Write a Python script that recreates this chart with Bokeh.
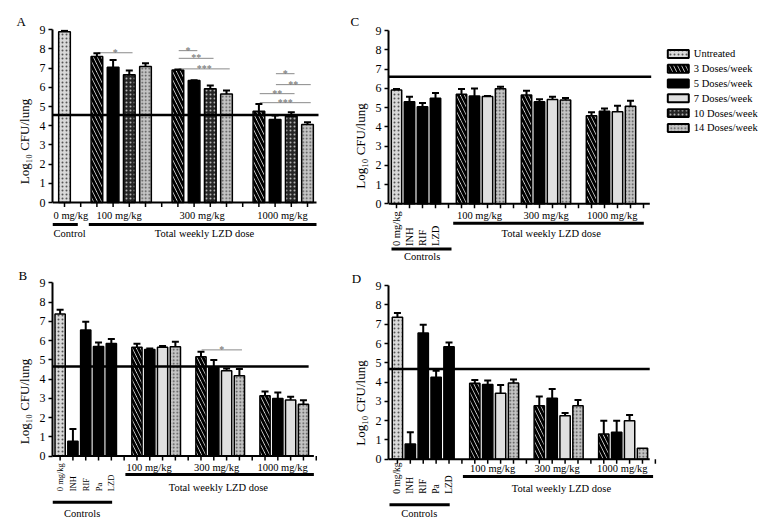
import numpy as np
from bokeh.plotting import figure
from bokeh.layouts import row, column
from bokeh.models import ColumnDataSource, Whisker, TeeHead, FixedTicker, Range1d
from bokeh.core.properties import value
from bokeh.embed import file_html
from bokeh.resources import INLINE

FONT = "Liberation Serif"

# ---------------- data ----------------
SERIES = ["Untreated", "3 Doses/week", "5 Doses/week", "7 Doses/week",
          "10 Doses/week", "14 Doses/week"]
DOSE_GROUPS = ["100 mg/kg", "300 mg/kg", "1000 mg/kg"]
Y_TICKS = [0, 1, 2, 3, 4, 5, 6, 7, 8, 9]
Y_LABEL = "Log\u2081\u2080 CFU/lung"

# Panel A
A_controls = ["0 mg/kg"]
A_ctrl_mean = [8.90]
A_ctrl_sd = [0.05]
A_series = ["3 Doses/week", "5 Doses/week", "10 Doses/week", "14 Doses/week"]
A_mean = [[7.60, 7.04, 6.66, 7.08],
          [6.90, 6.35, 5.92, 5.65],
          [4.75, 4.33, 4.49, 4.06]]
A_sd = [[0.17, 0.38, 0.21, 0.17],
        [0.03, 0.02, 0.17, 0.18],
        [0.38, 0.20, 0.21, 0.12]]
A_threshold = 4.56
A_sig_group = [0, 1, 1, 1, 2, 2, 2, 2]
A_sig_i = [0, 0, 0, 0, 1, 1, 0, 0]
A_sig_j = [2, 1, 2, 3, 2, 3, 2, 3]
A_sig_y = [7.80, 7.91, 7.51, 6.96, 6.71, 6.14, 5.67, 5.20]
A_sig_text = ["*", "*", "**", "***", "*", "**", "**", "***"]

# Panel B
B_controls = ["0 mg/kg", "INH", "RIF", "Pa", "LZD"]
B_ctrl_mean = [7.38, 0.77, 6.55, 5.70, 5.85]
B_ctrl_sd = [0.23, 0.63, 0.43, 0.21, 0.23]
B_series = ["3 Doses/week", "5 Doses/week", "7 Doses/week", "14 Doses/week"]
B_mean = [[5.66, 5.54, 5.66, 5.68],
          [5.16, 4.60, 4.43, 4.17],
          [3.13, 2.99, 2.92, 2.69]]
B_sd = [[0.18, 0.05, 0.06, 0.26],
        [0.26, 0.39, 0.12, 0.35],
        [0.22, 0.31, 0.16, 0.21]]
B_threshold = 4.65
B_sig_group = [1]
B_sig_i = [0]
B_sig_j = [3]
B_sig_y = [5.52]
B_sig_text = ["*"]

# Panel C
C_controls = ["0 mg/kg", "INH", "RIF", "LZD"]
C_ctrl_mean = [5.92, 5.31, 5.04, 5.49]
C_ctrl_sd = [0.05, 0.26, 0.20, 0.27]
C_series = ["3 Doses/week", "5 Doses/week", "7 Doses/week", "14 Doses/week"]
C_mean = [[5.70, 5.60, 5.58, 5.98],
          [5.65, 5.30, 5.42, 5.40],
          [4.58, 4.81, 4.79, 5.07]]
C_sd = [[0.27, 0.40, 0.02, 0.10],
        [0.23, 0.13, 0.15, 0.10],
        [0.18, 0.15, 0.31, 0.29]]
C_threshold = 6.60

# Panel D
D_controls = ["0 mg/kg", "INH", "RIF", "Pa", "LZD"]
D_ctrl_mean = [7.36, 0.79, 6.55, 4.25, 5.84]
D_ctrl_sd = [0.22, 0.61, 0.43, 0.34, 0.22]
D_series = ["3 Doses/week", "5 Doses/week", "7 Doses/week", "14 Doses/week"]
D_mean = [[3.94, 3.87, 3.42, 3.96],
          [2.78, 3.16, 2.26, 2.78],
          [1.31, 1.40, 2.00, 0.57]]
D_sd = [[0.17, 0.21, 0.43, 0.17],
        [0.48, 0.48, 0.14, 0.29],
        [0.69, 0.60, 0.30, 0.00]]
D_threshold = 4.68

# ---------------- styles ----------------
STYLES = {
    "Untreated": dict(fill_color="#d9d9d9", hatch_pattern="dot", hatch_color="#555555",
                      hatch_scale=4, hatch_weight=1),
    "3 Doses/week": dict(fill_color="white", hatch_pattern="left_diagonal_line",
                         hatch_color="black", hatch_scale=8, hatch_weight=3),
    "5 Doses/week": dict(fill_color="black"),
    "7 Doses/week": dict(fill_color="#e0e0e0"),
    "10 Doses/week": dict(fill_color="#262626", hatch_pattern="dot", hatch_color="#b5b5b5",
                          hatch_scale=4, hatch_weight=1),
    "14 Doses/week": dict(fill_color="#c4c4c4", hatch_pattern="dot", hatch_color="#4a4a4a",
                          hatch_scale=3.5, hatch_weight=1),
    "control": dict(fill_color="black"),
}


def make_panel(letter, cfg, controls, ctrl_mean, ctrl_sd, series, means, sds,
               threshold, sig=None, legend=False):
    ox, sx, oy, sy = cfg["map"]
    X = lambda px: (px - ox) / sx
    Y = lambda py: (oy - py) / sy
    fx, fy, fw, fh = cfg["fig"]
    fl, fr, ft, fb = cfg["frame"]
    p = figure(width=fw, height=fh,
               x_range=Range1d(X(fl), X(fr)), y_range=Range1d(Y(fb), Y(ft) + 0.01),
               output_backend="svg", toolbar_location=None, x_axis_location=None,
               min_border_left=fl - fx, min_border_right=fx + fw - fr,
               min_border_top=ft - fy, min_border_bottom=fy + fh - fb)
    p.xgrid.visible = False
    p.ygrid.visible = False
    p.outline_line_color = None
    p.background_fill_color = "white"
    p.border_fill_color = "white"

    nc = len(controls)
    slot = lambda g, k: nc + 1 + 5 * g + k
    n_slots = nc + 1 + 5 * len(DOSE_GROUPS) - 1

    bars = {}
    wx, wl, wu = [], [], []
    for i, (m, s) in enumerate(zip(ctrl_mean, ctrl_sd)):
        key = "Untreated" if i == 0 else "control"
        bars.setdefault(key, ([], []))
        bars[key][0].append(i)
        bars[key][1].append(m)
        if s > 0.015:
            wx.append(i); wl.append(m); wu.append(m + s)
    for g in range(len(DOSE_GROUPS)):
        for k, name in enumerate(series):
            m, s = means[g][k], sds[g][k]
            bars.setdefault(name, ([], []))
            bars[name][0].append(slot(g, k))
            bars[name][1].append(m)
            if s > 0.015:
                wx.append(slot(g, k)); wl.append(m); wu.append(m + s)

    for key, (xs, tops) in bars.items():
        p.vbar(x=xs, top=tops, bottom=0, width=cfg["bw"], line_color="black",
               line_width=1.5, **STYLES[key])

    wsrc = ColumnDataSource(dict(x=wx, lower=wl, upper=wu))
    p.add_layout(Whisker(base="x", lower="lower", upper="upper", source=wsrc,
                         dimension="height", line_color="black", line_width=2,
                         upper_head=TeeHead(size=7, line_width=2, line_color="black"),
                         lower_head=None, level="annotation"))

    # threshold line
    p.segment(x0=[X(fl)], y0=[threshold], x1=[X(cfg["thr_end"])], y1=[threshold],
              line_color="black", line_width=2.5)

    # x baseline and ticks
    p.segment(x0=[X(fl)], y0=[0], x1=[X(cfg["axis_end"])], y1=[0],
              line_color="black", line_width=2)
    tick_slots = list(range(n_slots + 1))
    p.segment(x0=tick_slots, y0=[0] * len(tick_slots), x1=tick_slots,
              y1=[-4.5 / sy] * len(tick_slots), line_color="black", line_width=1.5)

    txt = dict(text_font=value(FONT), text_color="black")

    # control labels
    if cfg["ctrl_rot"]:
        p.text(x=list(range(nc)), y=[Y(cfg["rot_bottom"])] * nc, text=controls,
               angle=np.pi / 2, text_align="left", text_baseline="middle",
               text_font_size=cfg["rot_size"], **txt)
    else:
        cxp, cyp = cfg["ctrl_lab"]
        p.text(x=[X(cxp)], y=[Y(cyp)], text=controls, text_align="left",
               text_baseline="middle", text_font_size="10.5px", **txt)

    # dose group labels
    p.text(x=[X(v) for v in cfg["grp_lab_x"]], y=[Y(cfg["grp_lab_y"])] * 3,
           text=DOSE_GROUPS, text_align="center", text_baseline="middle",
           text_font_size="10.5px", **txt)

    # underline bars
    (c0, c1, cy), (t0, t1, ty) = cfg["ctrl_bar"], cfg["tot_bar"]
    p.segment(x0=[X(c0), X(t0)], y0=[Y(cy), Y(ty)], x1=[X(c1), X(t1)], y1=[Y(cy), Y(ty)],
              line_color="black", line_width=3)
    (ctx, cty, cal), (ttx, tty) = cfg["ctrl_text"], cfg["tot_text"]
    p.text(x=[X(ctx)], y=[Y(cty)], text=["Controls" if nc > 1 else "Control"],
           text_align=cal, text_baseline="middle", text_font_size="10.5px", **txt)
    p.text(x=[X(ttx)], y=[Y(tty)], text=["Total weekly LZD dose"],
           text_align="center", text_baseline="middle", text_font_size="10.5px", **txt)

    # significance brackets
    if sig is not None:
        sg, si, sj, syv, stx = sig
        x0 = [slot(g, i) + 0.05 for g, i in zip(sg, si)]
        x1 = [slot(g, j) + 0.2 for g, j in zip(sg, sj)]
        p.segment(x0=x0, y0=syv, x1=x1, y1=syv, line_color="#8a8a8a", line_width=1)
        p.text(x=[(a + b) / 2 for a, b in zip(x0, x1)], y=[v + 0.5 / sy for v in syv],
               text=stx, text_align="center", text_baseline="alphabetic",
               text_font_size="10px", text_color="#6a6a6a", text_font=value(FONT))

    # legend
    if legend:
        lx, ly0, ldy = cfg["legend"]
        for i, name in enumerate(SERIES):
            yc = Y(ly0 + ldy * i)
            p.rect(x=[X(lx)], y=[yc], width=21 / sx, height=8 / sy,
                   line_color="black", line_width=2, **STYLES[name])
        p.text(x=[X(lx + 15.5)] * len(SERIES), y=[Y(ly0 + ldy * i) for i in range(len(SERIES))],
               text=SERIES, text_align="left", text_baseline="middle",
               text_font_size="10.5px", **txt)

    # y axis
    ax = p.yaxis[0]
    ax.ticker = FixedTicker(ticks=Y_TICKS)
    ax.bounds = (0, 9)
    ax.axis_line_width = 2
    ax.axis_line_color = "black"
    ax.major_tick_line_width = 1.5
    ax.major_tick_out = 4
    ax.major_tick_in = 0
    ax.minor_tick_out = 0
    ax.minor_tick_in = 0
    ax.major_label_text_font = FONT
    ax.major_label_text_font_size = "12px"
    ax.major_label_text_color = "black"
    ax.major_label_standoff = 3
    ax.axis_label = Y_LABEL
    ax.axis_label_text_font = FONT
    ax.axis_label_text_font_size = "13px"
    ax.axis_label_text_font_style = "normal"
    ax.axis_label_text_color = "black"
    ax.axis_label_standoff = 5

    # panel letter as title
    lxp, valign = cfg["letter"]
    p.title.text = letter
    p.title.align = "left"
    p.title.vertical_align = valign
    p.title.offset = lxp - fl
    p.title.standoff = 0
    p.title.text_font = FONT
    p.title.text_font_size = "13px"
    p.title.text_font_style = "normal"
    p.title.text_color = "black"
    return p


cfgA = dict(map=(64, 16.2, 202, 19.22), fig=(0, 0, 340, 253), frame=(52, 320, 29, 253),
            bw=0.72, axis_end=316, thr_end=318, ctrl_rot=False, ctrl_lab=(53, 215),
            grp_lab_x=[118.7, 201.7, 282.0], grp_lab_y=215,
            ctrl_bar=(52, 77.3, 224), tot_bar=(88.3, 316, 224),
            ctrl_text=(53, 233.3, "left"), tot_text=(204, 233.3), letter=(16, "middle"))
cfgB = dict(map=(56.7, 12.95, 455.5, 19.25), fig=(0, 253, 340, 267), frame=(49, 320, 282, 520),
            bw=0.8, axis_end=313.3, thr_end=308, ctrl_rot=True, rot_bottom=490.7,
            rot_size="8.5px",
            grp_lab_x=[146.7, 215, 281.7], grp_lab_y=466.7,
            ctrl_bar=(49, 109.3, 501.7), tot_bar=(122.7, 313.3, 474),
            ctrl_text=(79, 513, "center"), tot_text=(216.7, 487.3), letter=(15, "bottom"))
cfgC = dict(map=(396, 13.0, 203.3, 19.26), fig=(340, 0, 424, 262), frame=(388, 764, 29, 262),
            bw=0.8, axis_end=649.3, thr_end=650.7, ctrl_rot=True, rot_bottom=245.5,
            rot_size="10.5px",
            grp_lab_x=[479, 545.7, 611.7], grp_lab_y=215,
            ctrl_bar=(391, 451, 248.5), tot_bar=(452.7, 643.3, 222.7),
            ctrl_text=(421.7, 256.3, "center"), tot_text=(550.7, 232.7), letter=(350, "middle"),
            legend=(677.8, 53.3, 14.8))
cfgD = dict(map=(394, 13.0, 458.7, 19.3), fig=(340, 262, 424, 258), frame=(385, 764, 285, 520),
            bw=0.8, axis_end=648.3, thr_end=648.3, ctrl_rot=True, rot_bottom=493.3,
            rot_size="9.5px",
            grp_lab_x=[490, 555, 620.7], grp_lab_y=468.3,
            ctrl_bar=(386, 446.7, 504.3), tot_bar=(460, 651.7, 476),
            ctrl_text=(416, 512.7, "center"), tot_text=(559.3, 488.3), letter=(348.3, "bottom"))

pA = make_panel("A", cfgA, A_controls, A_ctrl_mean, A_ctrl_sd, A_series, A_mean, A_sd,
                A_threshold, sig=(A_sig_group, A_sig_i, A_sig_j, A_sig_y, A_sig_text))
pC = make_panel("C", cfgC, C_controls, C_ctrl_mean, C_ctrl_sd, C_series, C_mean, C_sd,
                C_threshold, legend=True)
pB = make_panel("B", cfgB, B_controls, B_ctrl_mean, B_ctrl_sd, B_series, B_mean, B_sd,
                B_threshold, sig=(B_sig_group, B_sig_i, B_sig_j, B_sig_y, B_sig_text))
pD = make_panel("D", cfgD, D_controls, D_ctrl_mean, D_ctrl_sd, D_series, D_mean, D_sd,
                D_threshold)

layout = row(column(pA, pB), column(pC, pD))
open("out.html", "w").write(file_html(layout, INLINE))
